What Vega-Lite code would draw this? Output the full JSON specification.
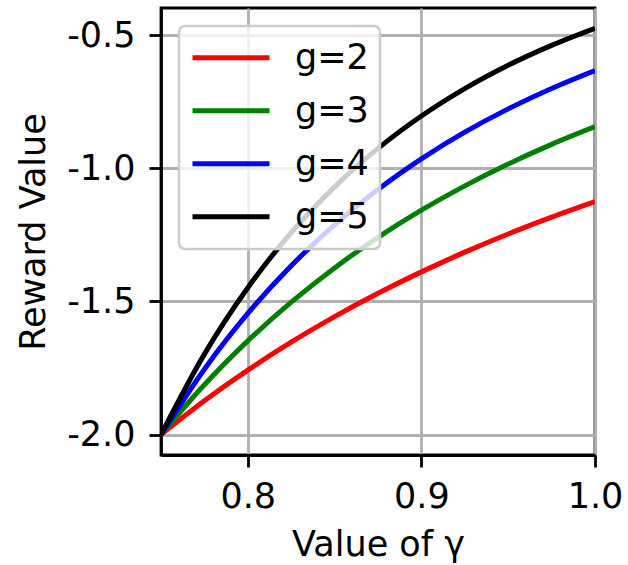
{
  "$schema": "https://vega.github.io/schema/vega-lite/v6.json",
  "autosize": "none",
  "width": 434,
  "height": 447,
  "padding": {"left": 161, "top": 8, "right": 33, "bottom": 110},
  "background": "white",
  "data": {
    "values": [
      {"gamma": 0.75, "reward": -2.0, "g": "g=2"},
      {"gamma": 0.775, "reward": -1.87305, "g": "g=2"},
      {"gamma": 0.8, "reward": -1.75781, "g": "g=2"},
      {"gamma": 0.825, "reward": -1.65289, "g": "g=2"},
      {"gamma": 0.85, "reward": -1.55709, "g": "g=2"},
      {"gamma": 0.875, "reward": -1.46939, "g": "g=2"},
      {"gamma": 0.9, "reward": -1.38889, "g": "g=2"},
      {"gamma": 0.925, "reward": -1.31483, "g": "g=2"},
      {"gamma": 0.95, "reward": -1.24654, "g": "g=2"},
      {"gamma": 0.975, "reward": -1.18343, "g": "g=2"},
      {"gamma": 1.0, "reward": -1.125, "g": "g=2"},
      {"gamma": 0.75, "reward": -2.0, "g": "g=3"},
      {"gamma": 0.775, "reward": -1.81263, "g": "g=3"},
      {"gamma": 0.8, "reward": -1.64795, "g": "g=3"},
      {"gamma": 0.825, "reward": -1.50263, "g": "g=3"},
      {"gamma": 0.85, "reward": -1.37391, "g": "g=3"},
      {"gamma": 0.875, "reward": -1.25948, "g": "g=3"},
      {"gamma": 0.9, "reward": -1.15741, "g": "g=3"},
      {"gamma": 0.925, "reward": -1.06608, "g": "g=3"},
      {"gamma": 0.95, "reward": -0.98411, "g": "g=3"},
      {"gamma": 0.975, "reward": -0.91033, "g": "g=3"},
      {"gamma": 1.0, "reward": -0.84375, "g": "g=3"},
      {"gamma": 0.75, "reward": -2.0, "g": "g=4"},
      {"gamma": 0.775, "reward": -1.75416, "g": "g=4"},
      {"gamma": 0.8, "reward": -1.54495, "g": "g=4"},
      {"gamma": 0.825, "reward": -1.36603, "g": "g=4"},
      {"gamma": 0.85, "reward": -1.21227, "g": "g=4"},
      {"gamma": 0.875, "reward": -1.07955, "g": "g=4"},
      {"gamma": 0.9, "reward": -0.96451, "g": "g=4"},
      {"gamma": 0.925, "reward": -0.86439, "g": "g=4"},
      {"gamma": 0.95, "reward": -0.77693, "g": "g=4"},
      {"gamma": 0.975, "reward": -0.70026, "g": "g=4"},
      {"gamma": 1.0, "reward": -0.63281, "g": "g=4"},
      {"gamma": 0.75, "reward": -2.0, "g": "g=5"},
      {"gamma": 0.775, "reward": -1.69757, "g": "g=5"},
      {"gamma": 0.8, "reward": -1.44839, "g": "g=5"},
      {"gamma": 0.825, "reward": -1.24184, "g": "g=5"},
      {"gamma": 0.85, "reward": -1.06965, "g": "g=5"},
      {"gamma": 0.875, "reward": -0.92533, "g": "g=5"},
      {"gamma": 0.9, "reward": -0.80376, "g": "g=5"},
      {"gamma": 0.925, "reward": -0.70086, "g": "g=5"},
      {"gamma": 0.95, "reward": -0.61336, "g": "g=5"},
      {"gamma": 0.975, "reward": -0.53866, "g": "g=5"},
      {"gamma": 1.0, "reward": -0.47461, "g": "g=5"}
    ]
  },
  "mark": {"type": "line", "interpolate": "monotone", "strokeWidth": 5, "clip": true},
  "encoding": {
    "x": {
      "field": "gamma",
      "type": "quantitative",
      "scale": {"domain": [0.75, 1.0], "nice": false, "zero": false},
      "axis": {"values": [0.8, 0.9, 1.0], "format": ".1f", "title": "Value of γ", "titlePadding": 13}
    },
    "y": {
      "field": "reward",
      "type": "quantitative",
      "scale": {"domain": [-2.0763, -0.3983], "nice": false, "zero": false},
      "axis": {
        "values": [-2.0, -1.5, -1.0, -0.5],
        "labelExpr": "datum.value < 0 ? '-' + format(abs(datum.value), '.1f') : format(datum.value, '.1f')",
        "labelPadding": 14,
        "title": "Reward Value",
        "titlePadding": 15
      }
    },
    "color": {
      "field": "g",
      "type": "nominal",
      "scale": {"domain": ["g=2", "g=3", "g=4", "g=5"], "range": ["#ff0000", "#008000", "#0000ff", "#000000"]},
      "legend": {
        "title": null,
        "orient": "none",
        "legendX": 18,
        "legendY": 18,
        "symbolType": "stroke",
        "symbolSize": 5929,
        "symbolStrokeWidth": 5,
        "symbolOffset": 0,
        "labelOffset": 23,
        "labelFontSize": 35,
        "labelFont": "DejaVu Sans",
        "labelColor": "black",
        "clipHeight": 41.5,
        "rowPadding": 11,
        "padding": 11,
        "fillColor": "rgba(255,255,255,0.8)",
        "strokeColor": "#cccccc",
        "cornerRadius": 6,
        "encode": {"legend": {"update": {"strokeWidth": {"value": 2.5}}}}
      }
    }
  },
  "config": {
    "view": {"stroke": "black", "strokeWidth": 2.8},
    "axis": {
      "domainColor": "black",
      "domainWidth": 2.8,
      "tickColor": "black",
      "tickWidth": 2.8,
      "tickSize": 12,
      "labelFont": "DejaVu Sans",
      "labelFontSize": 35,
      "labelColor": "black",
      "labelPadding": 12,
      "labelFlush": false,
      "labelOverlap": false,
      "grid": true,
      "gridColor": "#b0b0b0",
      "gridWidth": 2.8,
      "titleFont": "DejaVu Sans",
      "titleFontSize": 35,
      "titleFontWeight": "normal",
      "titleColor": "black"
    }
  }
}
